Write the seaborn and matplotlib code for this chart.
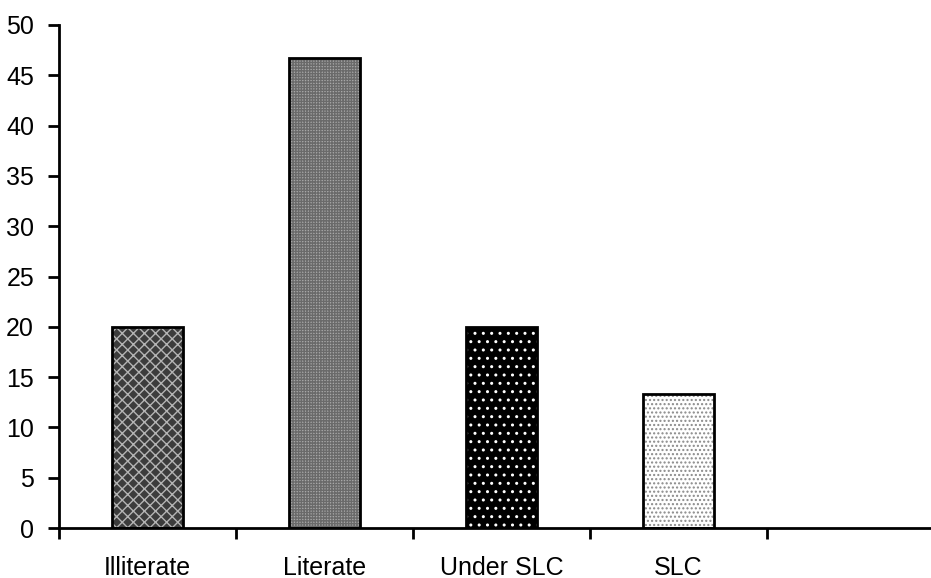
import matplotlib
matplotlib.use("Agg")
import matplotlib.pyplot as plt
import seaborn as sns
import pandas as pd

# Education level shares (%)
categories = ["Illiterate", "Literate", "Under SLC", "SLC"]
values = [20.0, 46.67, 20.0, 13.33]
y_ticks = [0, 5, 10, 15, 20, 25, 30, 35, 40, 45, 50]

# fill / hatch styling per bar
face_colors = ["#3c3c3c", "#a8a8a8", "#000000", "#ffffff"]
hatch_colors = ["#b4b4b4", "#6a6a6a", "#ffffff", "#8a8a8a"]
hatches = ["xxx", "++++++", "..", "...."]

sns.set_theme(style="white")
plt.rcParams["font.family"] = ["Liberation Sans", "DejaVu Sans"]
plt.rcParams["hatch.linewidth"] = 1.0

df = pd.DataFrame({"level": categories, "pct": values})

W, H = 931, 578
fig = plt.figure(figsize=(W / 100, H / 100), dpi=100)
x0, x1 = 59, 944
y_top, y_bot = 25, 528
ax = fig.add_axes([x0 / W, (H - y_bot) / H, (x1 - x0) / W, (y_bot - y_top) / H])

# hatched fills
sns.barplot(data=df, x="level", y="pct", order=categories, width=0.4,
            color="white", linewidth=0, ax=ax, errorbar=None)
bars = sorted(ax.patches, key=lambda p: p.get_x())
for p, fc, hc, h in zip(bars, face_colors, hatch_colors, hatches):
    p.set_facecolor(fc)
    p.set_edgecolor(hc)
    p.set_hatch(h)
    p.set_linewidth(0)

# black outlines on top
sns.barplot(data=df, x="level", y="pct", order=categories, width=0.4,
            fill=False, edgecolor="black", linewidth=2, ax=ax, errorbar=None)

ax.set_xlim(-0.5, 4.5)
ax.set_ylim(0, 50)
ax.set_yticks(y_ticks)
ax.set_yticklabels([str(t) for t in y_ticks])
ax.set_xticks(range(len(categories)))
ax.set_xticklabels(categories)
ax.set_xticks([i - 0.5 for i in range(len(categories) + 2)], minor=True)
ax.set_xlabel("")
ax.set_ylabel("")

for s in ["top", "right"]:
    ax.spines[s].set_visible(False)
for s in ["left", "bottom"]:
    ax.spines[s].set_color("black")
    ax.spines[s].set_linewidth(2)

ax.tick_params(axis="y", which="major", direction="out", length=8, width=2,
               color="black", labelcolor="black", labelsize=18, pad=10, left=True)
ax.tick_params(axis="x", which="major", length=0, labelsize=18, pad=20,
               labelcolor="black")
ax.tick_params(axis="x", which="minor", direction="out", length=8, width=2,
               color="black", bottom=True)
ax.grid(False)

fig.savefig("out.png", dpi=100)
